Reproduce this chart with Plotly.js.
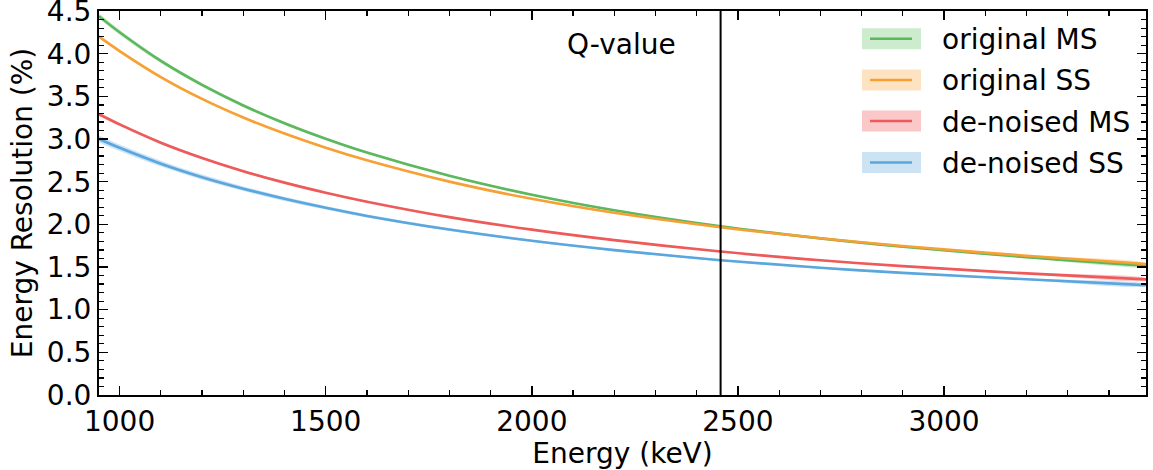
<!DOCTYPE html>
<html>
<head>
<meta charset="utf-8">
<script src="https://cdn.plot.ly/plotly-3.0.1.min.js"></script>
<style>html,body{margin:0;padding:0;background:#fff;}#chart{width:1153px;height:470px;}</style>
</head>
<body>
<div id="chart"></div>
<script>
// Energy grid (keV)
const energy = [950, 1000, 1100, 1200, 1300, 1400, 1500, 1600, 1800, 2000, 2200, 2458, 2700, 2900, 3200, 3490];

// Energy resolution (%)
const originalMS = [4.44, 4.251, 3.915, 3.634, 3.393, 3.185, 3.003, 2.841, 2.569, 2.347, 2.165, 1.977, 1.836, 1.738, 1.615, 1.515];
const originalSS = [4.20, 4.031, 3.726, 3.47, 3.252, 3.064, 2.898, 2.751, 2.501, 2.299, 2.135, 1.966, 1.837, 1.746, 1.632, 1.535];
const denoisedMS = [3.29, 3.171, 2.957, 2.778, 2.623, 2.489, 2.371, 2.266, 2.085, 1.938, 1.815, 1.681, 1.579, 1.51, 1.425, 1.355];
const denoisedSS = [3.00, 2.897, 2.711, 2.553, 2.418, 2.299, 2.194, 2.099, 1.939, 1.807, 1.698, 1.58, 1.491, 1.431, 1.356, 1.288];

// Half-width of the uncertainty bands (%)
const errOriginalMS = [0.030, 0.028, 0.025, 0.022, 0.019, 0.017, 0.015, 0.014, 0.012, 0.011, 0.010, 0.010, 0.010, 0.010, 0.010, 0.010];
const errOriginalSS = [0.020, 0.019, 0.017, 0.015, 0.014, 0.013, 0.012, 0.011, 0.010, 0.010, 0.010, 0.010, 0.010, 0.010, 0.010, 0.010];
const errDenoisedMS = [0.020, 0.019, 0.017, 0.015, 0.014, 0.013, 0.012, 0.011, 0.010, 0.010, 0.010, 0.010, 0.010, 0.010, 0.010, 0.010];
const errDenoisedSS = [0.040, 0.038, 0.034, 0.030, 0.027, 0.024, 0.021, 0.019, 0.016, 0.014, 0.012, 0.011, 0.010, 0.010, 0.010, 0.010];

const seriesNames = ["original MS", "original SS", "de-noised MS", "de-noised SS"];
const qValue = 2458;
const xTicks = [1000, 1500, 2000, 2500, 3000];
const yTicks = [0, 0.5, 1.0, 1.5, 2.0, 2.5, 3.0, 3.5, 4.0, 4.5];

const seriesValues = [originalMS, originalSS, denoisedMS, denoisedSS];
const seriesErr = [errOriginalMS, errOriginalSS, errDenoisedMS, errDenoisedSS];
const lineColors = ["#5cb85c", "#f7a033", "#ee5a5a", "#5aa6de"];
const bandColors = ["rgba(92,184,92,0.30)", "rgba(247,160,51,0.30)", "rgba(238,90,90,0.30)", "rgba(90,166,222,0.30)"];
const patchColors = ["#cdebcd", "#fde3c2", "#fac8c8", "#cce3f4"];

const FONT = "DejaVu Sans, sans-serif";
const traces = [];
seriesValues.forEach((vals, i) => {
  const up = vals.map((v, k) => v + seriesErr[i][k]);
  const lo = vals.map((v, k) => v - seriesErr[i][k]);
  traces.push({
    x: energy.concat(energy.slice().reverse()),
    y: up.concat(lo.slice().reverse()),
    type: "scatter", mode: "lines", fill: "toself",
    fillcolor: bandColors[i], line: {width: 0, shape: "spline", smoothing: 1},
    hoverinfo: "skip", showlegend: false
  });
});
seriesValues.forEach((vals, i) => {
  traces.push({
    x: energy, y: vals, type: "scatter", mode: "lines",
    name: seriesNames[i],
    line: {color: lineColors[i], width: 2.6, shape: "spline", smoothing: 1},
    showlegend: false
  });
});

// plot area in pixels
const L = 99, R = 1146, T = 11, B = 395;
const px = v => (v - L) / (R - L);
const py = v => (B - v) / (B - T);

const shapes = [{
  type: "line", xref: "x", yref: "paper", x0: qValue, x1: qValue, y0: 0, y1: 1,
  line: {color: "black", width: 2}
}];
const annotations = [{
  xref: "x", yref: "paper", x: qValue, xshift: -43, y: py(44), xanchor: "right", yanchor: "middle",
  text: "Q-value", showarrow: false, font: {family: FONT, size: 28, color: "black"}
}];
const legendRows = [38.8, 80, 121, 162.5];
seriesNames.forEach((n, i) => {
  const yc = legendRows[i];
  shapes.push({type: "rect", xref: "paper", yref: "paper",
    x0: px(862), x1: px(921), y0: py(yc - 10.5), y1: py(yc + 10.5),
    fillcolor: patchColors[i], line: {width: 0}});
  shapes.push({type: "line", xref: "paper", yref: "paper",
    x0: px(870), x1: px(912), y0: py(yc), y1: py(yc),
    line: {color: lineColors[i], width: 2.6}});
  annotations.push({xref: "paper", yref: "paper", x: px(940), y: py(yc + 1), xanchor: "left", yanchor: "middle",
    text: n, showarrow: false, font: {family: FONT, size: 28, color: "black"}});
});

const axisCommon = {
  showline: true, linecolor: "black", linewidth: 2, mirror: "allticks",
  ticks: "inside", ticklen: 9, tickwidth: 1.5, tickcolor: "black",
  showgrid: false, zeroline: false, ticklabeloverflow: "allow",
  tickfont: {family: FONT, size: 28, color: "black"}
};

const layout = {
  width: 1153, height: 470,
  margin: {l: L, r: 1153 - R, t: T, b: 470 - B},
  paper_bgcolor: "white", plot_bgcolor: "white",
  font: {family: FONT, color: "black"},
  showlegend: false,
  xaxis: Object.assign({}, axisCommon, {
    range: [950, 3490], tickmode: "array", tickvals: xTicks, ticktext: xTicks.map(String),
    minor: {dtick: 100, ticklen: 5, tickwidth: 1.2, tickcolor: "black", ticks: "inside", showgrid: false},
    title: {text: "Energy (keV)", font: {family: FONT, size: 28, color: "black"}, standoff: 2}
  }),
  yaxis: Object.assign({}, axisCommon, {
    range: [0, 4.5005], tickmode: "array", tickvals: yTicks, ticktext: yTicks.map(v => v.toFixed(1)),
    minor: {dtick: 0.1, ticklen: 5, tickwidth: 1.2, tickcolor: "black", ticks: "inside", showgrid: false},
    title: {text: "Energy Resolution (%)", font: {family: FONT, size: 28, color: "black"}, standoff: 6}
  }),
  shapes: shapes,
  annotations: annotations
};

Plotly.newPlot("chart", traces, layout, {staticPlot: true, displayModeBar: false});
</script>
</body>
</html>
